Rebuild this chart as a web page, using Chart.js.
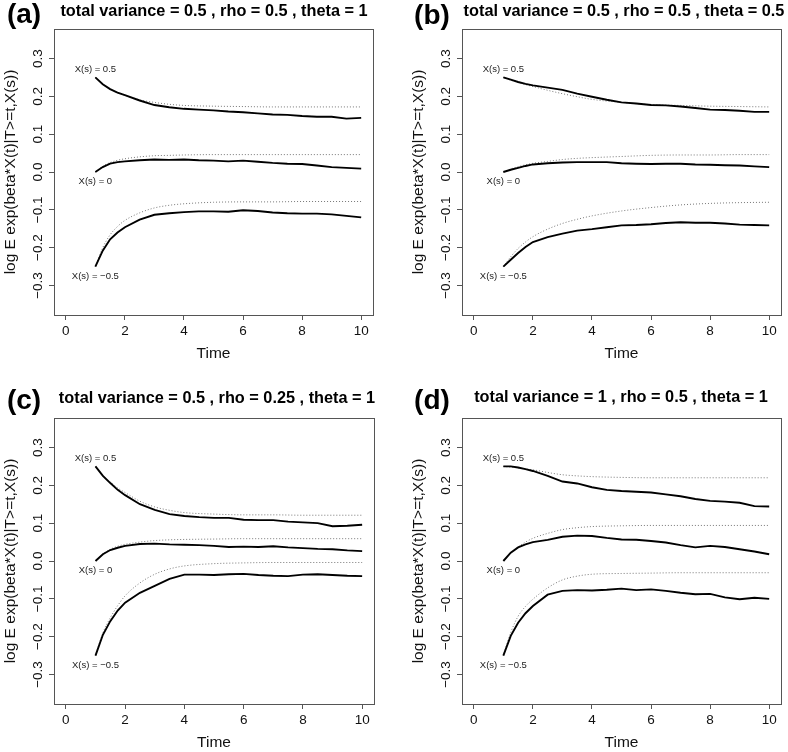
<!DOCTYPE html>
<html>
<head>
<meta charset="utf-8">
<script src="https://cdn.jsdelivr.net/npm/chart.js@4.4.0/dist/chart.umd.min.js"></script>
<style>
  html, body { margin: 0; padding: 0; background: #fff; overflow: hidden; }
  #wrap { position: relative; width: 788px; height: 752px; }
  .panel { position: absolute; width: 394px; height: 376px; }
</style>
</head>
<body>
<div id="wrap">
  <div class="panel" style="left:0;top:0"><canvas id="chartA" width="394" height="376"></canvas></div>
  <div class="panel" style="left:394px;top:0"><canvas id="chartB" width="394" height="376"></canvas></div>
  <div class="panel" style="left:0;top:376px"><canvas id="chartC" width="394" height="376"></canvas></div>
  <div class="panel" style="left:394px;top:376px"><canvas id="chartD" width="394" height="376"></canvas></div>
</div>
<script>
// time grids (simulated = solid, theoretical = dotted)
const tSim = [1, 1.25, 1.5, 1.75, 2, 2.5, 3, 3.5, 4, 4.5, 5, 5.5, 6, 6.5, 7, 7.5, 8, 8.5, 9, 9.5, 10];
const tTheo = [1, 1.25, 1.5, 1.75, 2, 2.5, 3, 3.5, 4, 5, 6, 7, 8, 9, 10];

const xTicks = [0, 2, 4, 6, 8, 10];
const yTicks = [-0.3, -0.2, -0.1, 0, 0.1, 0.2, 0.3];

const curveLabels = ['X(s) = 0.5', 'X(s) = 0', 'X(s) = \u22120.5'];
const curveLabelX = 1;
const curveLabelY = [0.272, -0.026, -0.275];

// (a) total variance = 0.5, rho = 0.5, theta = 1
const aSimHi  = [0.250, 0.232, 0.219, 0.210, 0.203, 0.189, 0.177, 0.171, 0.167, 0.165, 0.163, 0.160, 0.158, 0.155, 0.152, 0.151, 0.148, 0.146, 0.146, 0.141, 0.143];
const aSimMid = [0, 0.013, 0.022, 0.026, 0.028, 0.031, 0.033, 0.032, 0.033, 0.031, 0.030, 0.028, 0.030, 0.027, 0.024, 0.022, 0.021, 0.017, 0.013, 0.011, 0.009];
const aSimLo  = [-0.250, -0.208, -0.178, -0.160, -0.146, -0.126, -0.113, -0.109, -0.106, -0.104, -0.104, -0.105, -0.101, -0.103, -0.107, -0.109, -0.110, -0.110, -0.112, -0.116, -0.120];
const aTheoHi  = [0.250, 0.232, 0.219, 0.210, 0.203, 0.191, 0.184, 0.179, 0.176, 0.174, 0.173, 0.172, 0.172, 0.172, 0.172];
const aTheoMid = [0, 0.015, 0.025, 0.031, 0.035, 0.040, 0.043, 0.044, 0.045, 0.046, 0.046, 0.046, 0.046, 0.046, 0.046];
const aTheoLo  = [-0.250, -0.200, -0.166, -0.144, -0.128, -0.108, -0.095, -0.088, -0.084, -0.080, -0.079, -0.079, -0.078, -0.078, -0.078];

// (b) total variance = 0.5, rho = 0.5, theta = 0.5
const bSimHi  = [0.250, 0.244, 0.238, 0.233, 0.229, 0.223, 0.217, 0.207, 0.199, 0.191, 0.184, 0.181, 0.177, 0.176, 0.173, 0.169, 0.165, 0.164, 0.162, 0.159, 0.159];
const bSimMid = [0, 0.006, 0.011, 0.016, 0.020, 0.023, 0.025, 0.026, 0.026, 0.026, 0.023, 0.022, 0.021, 0.022, 0.022, 0.020, 0.019, 0.018, 0.017, 0.015, 0.013];
const bSimLo  = [-0.250, -0.232, -0.214, -0.198, -0.185, -0.172, -0.163, -0.155, -0.151, -0.146, -0.141, -0.140, -0.138, -0.135, -0.133, -0.134, -0.134, -0.136, -0.139, -0.140, -0.141];
const bTheoHi  = [0.250, 0.243, 0.237, 0.231, 0.226, 0.216, 0.207, 0.199, 0.192, 0.184, 0.178, 0.176, 0.174, 0.173, 0.172];
const bTheoMid = [0, 0.008, 0.014, 0.019, 0.023, 0.028, 0.033, 0.036, 0.038, 0.041, 0.044, 0.045, 0.045, 0.046, 0.046];
const bTheoLo  = [-0.250, -0.224, -0.202, -0.185, -0.171, -0.151, -0.136, -0.125, -0.116, -0.103, -0.094, -0.087, -0.083, -0.081, -0.080];

// (c) total variance = 0.5, rho = 0.25, theta = 1
const cSimHi  = [0.250, 0.225, 0.206, 0.188, 0.174, 0.150, 0.135, 0.124, 0.119, 0.116, 0.114, 0.114, 0.109, 0.108, 0.108, 0.104, 0.102, 0.100, 0.092, 0.093, 0.096];
const cSimMid = [0, 0.018, 0.029, 0.035, 0.040, 0.045, 0.046, 0.044, 0.043, 0.042, 0.040, 0.037, 0.038, 0.037, 0.039, 0.036, 0.034, 0.032, 0.031, 0.028, 0.026];
const cSimLo  = [-0.250, -0.195, -0.159, -0.131, -0.110, -0.084, -0.066, -0.047, -0.036, -0.036, -0.037, -0.035, -0.034, -0.037, -0.039, -0.040, -0.036, -0.035, -0.037, -0.039, -0.040];
const cTheoHi  = [0.250, 0.227, 0.209, 0.193, 0.181, 0.158, 0.143, 0.134, 0.128, 0.124, 0.122, 0.122, 0.121, 0.121, 0.121];
const cTheoMid = [0, 0.019, 0.031, 0.039, 0.044, 0.050, 0.054, 0.056, 0.057, 0.058, 0.059, 0.059, 0.059, 0.059, 0.059];
const cTheoLo  = [-0.250, -0.190, -0.150, -0.118, -0.092, -0.058, -0.035, -0.021, -0.013, -0.007, -0.005, -0.004, -0.004, -0.004, -0.004];

// (d) total variance = 1, rho = 0.5, theta = 1
const dSimHi  = [0.250, 0.250, 0.247, 0.243, 0.238, 0.225, 0.210, 0.205, 0.195, 0.188, 0.185, 0.183, 0.181, 0.176, 0.171, 0.164, 0.159, 0.157, 0.154, 0.145, 0.144];
const dSimMid = [0, 0.022, 0.036, 0.044, 0.050, 0.056, 0.064, 0.067, 0.066, 0.061, 0.057, 0.056, 0.053, 0.049, 0.042, 0.036, 0.040, 0.037, 0.031, 0.025, 0.018];
const dSimLo  = [-0.250, -0.198, -0.163, -0.138, -0.119, -0.089, -0.079, -0.077, -0.078, -0.076, -0.073, -0.077, -0.075, -0.079, -0.084, -0.088, -0.087, -0.096, -0.101, -0.097, -0.100];
const dTheoHi  = [0.250, 0.248, 0.246, 0.243, 0.241, 0.234, 0.228, 0.225, 0.223, 0.221, 0.220, 0.220, 0.220, 0.220, 0.220];
const dTheoMid = [0, 0.021, 0.037, 0.050, 0.060, 0.073, 0.083, 0.088, 0.091, 0.093, 0.094, 0.094, 0.094, 0.094, 0.094];
const dTheoLo  = [-0.250, -0.189, -0.146, -0.120, -0.101, -0.071, -0.050, -0.040, -0.035, -0.033, -0.032, -0.031, -0.031, -0.031, -0.031];

const FONT = '"Liberation Sans", Arial, Helvetica, sans-serif';
const AXIS_GREY = '#555';

function pts(xs, ys) {
  return xs.map((x, i) => ({ x: x, y: ys[i] }));
}

function fmtY(v) {
  return v.toFixed(1).replace('-', '\u2212');
}

// box, rotated y tick labels, curve labels, title and panel letter
const panelDecor = {
  id: 'panelDecor',
  afterDraw(chart, args, opts) {
    const ctx = chart.ctx;
    const a = chart.chartArea;
    const xs = chart.scales.x, ys = chart.scales.y;
    ctx.save();
    ctx.strokeStyle = AXIS_GREY;
    ctx.lineWidth = 1;
    ctx.strokeRect(a.left + 0.5, a.top + 0.5, a.right - a.left, a.bottom - a.top);

    ctx.fillStyle = '#111';
    ctx.textAlign = 'center';
    ctx.textBaseline = 'middle';
    ctx.font = '13.5px ' + FONT;
    ys.ticks.forEach(t => {
      ctx.save();
      ctx.translate(a.left - 15.5, ys.getPixelForValue(t.value));
      ctx.rotate(-Math.PI / 2);
      ctx.fillText(fmtY(t.value), 0, 0);
      ctx.restore();
    });

    ctx.fillStyle = '#222';
    ctx.font = '9.5px ' + FONT;
    curveLabels.forEach((s, i) => {
      ctx.fillText(s, xs.getPixelForValue(curveLabelX), ys.getPixelForValue(curveLabelY[i]));
    });

    ctx.fillStyle = '#000';
    ctx.font = 'bold 16.3px ' + FONT;
    ctx.fillText(opts.title, opts.titleX, opts.titleY);
    ctx.font = 'bold 28px ' + FONT;
    ctx.fillText(opts.letter, opts.letterX, opts.letterY);
    ctx.restore();
  }
};

function makePanel(id, box, head, sim, theo) {
  const solid = sim.map(v => ({
    data: pts(tSim, v),
    borderColor: '#000',
    borderWidth: 1.9,
    pointRadius: 0,
    tension: 0,
    fill: false
  }));
  const dotted = theo.map(v => ({
    data: pts(tTheo, v),
    borderColor: '#777',
    borderWidth: 1,
    borderDash: [1, 2],
    pointRadius: 0,
    cubicInterpolationMode: 'monotone',
    fill: false
  }));

  new Chart(document.getElementById(id), {
    type: 'line',
    data: { datasets: solid.concat(dotted) },
    options: {
      responsive: false,
      animation: false,
      events: [],
      layout: {
        padding: { left: box.left - 54, top: box.top, right: 394 - box.right, bottom: 376 - box.bottom - 48 }
      },
      plugins: {
        legend: { display: false },
        tooltip: { enabled: false },
        panelDecor: head
      },
      scales: {
        x: {
          type: 'linear',
          min: -0.4,
          max: 10.4,
          afterBuildTicks: s => { s.ticks = xTicks.map(v => ({ value: v })); },
          afterFit: s => { s.height = 48; },
          ticks: { font: { size: 13.5, family: FONT }, color: '#111', padding: 3, maxRotation: 0, autoSkip: false },
          grid: { drawOnChartArea: false, tickLength: 5, color: AXIS_GREY },
          border: { color: AXIS_GREY },
          title: { display: true, text: 'Time', font: { size: 15.5, family: FONT }, color: '#111', padding: { top: 0, bottom: 0 } }
        },
        y: {
          type: 'linear',
          min: -0.378,
          max: 0.378,
          afterBuildTicks: s => { s.ticks = yTicks.map(v => ({ value: v })); },
          afterFit: s => { s.width = 54; },
          ticks: { display: false },
          grid: { drawOnChartArea: false, tickLength: 5, color: AXIS_GREY },
          border: { color: AXIS_GREY },
          title: { display: true, text: 'log E exp(beta*X(t)|T>=t,X(s))', font: { size: 15.5, family: FONT }, color: '#111', padding: { top: 1.5, bottom: 0 } }
        }
      }
    },
    plugins: [panelDecor]
  });
}

makePanel('chartA', { left: 54, top: 29, right: 373, bottom: 315 },
  { title: 'total variance = 0.5 , rho = 0.5 , theta = 1', titleX: 214, titleY: 12, letter: '(a)', letterX: 24, letterY: 15 },
  [aSimHi, aSimMid, aSimLo], [aTheoHi, aTheoMid, aTheoLo]);

makePanel('chartB', { left: 68, top: 29, right: 387, bottom: 315 },
  { title: 'total variance = 0.5 , rho = 0.5 , theta = 0.5', titleX: 230, titleY: 12, letter: '(b)', letterX: 38, letterY: 16 },
  [bSimHi, bSimMid, bSimLo], [bTheoHi, bTheoMid, bTheoLo]);

makePanel('chartC', { left: 54, top: 42, right: 374, bottom: 328 },
  { title: 'total variance = 0.5 , rho = 0.25 , theta = 1', titleX: 217, titleY: 23, letter: '(c)', letterX: 24, letterY: 25 },
  [cSimHi, cSimMid, cSimLo], [cTheoHi, cTheoMid, cTheoLo]);

makePanel('chartD', { left: 68, top: 42, right: 387, bottom: 328 },
  { title: 'total variance = 1 , rho = 0.5 , theta = 1', titleX: 227, titleY: 22, letter: '(d)', letterX: 38, letterY: 25 },
  [dSimHi, dSimMid, dSimLo], [dTheoHi, dTheoMid, dTheoLo]);
</script>
</body>
</html>
